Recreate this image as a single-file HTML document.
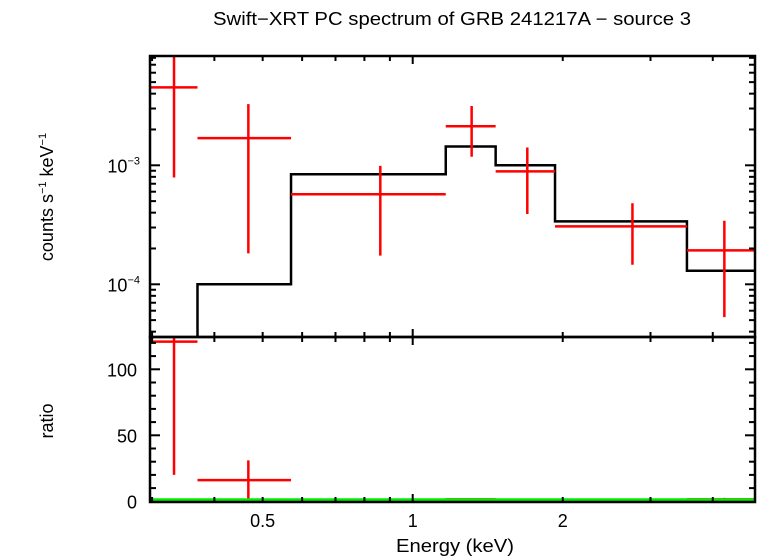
<!DOCTYPE html>
<html><head><meta charset="utf-8"><style>
html,body{margin:0;padding:0;background:#fff;}
svg{display:block;font-family:"Liberation Sans",sans-serif;}
</style></head><body>
<svg id="chart" width="758" height="556" viewBox="0 0 758 556">
<text x="452" y="25" font-size="18" text-anchor="middle" textLength="478" lengthAdjust="spacingAndGlyphs">Swift−XRT PC spectrum of GRB 241217A − source 3</text>
<text transform="translate(53,197) rotate(-90)" font-size="18" text-anchor="middle">counts s<tspan font-size="11" dy="-7">−1</tspan><tspan dy="7"> keV</tspan><tspan font-size="11" dy="-7">−1</tspan></text>
<text transform="translate(53,421) rotate(-90)" font-size="18" text-anchor="middle">ratio</text>
<text x="455" y="552" font-size="18" text-anchor="middle" textLength="118" lengthAdjust="spacingAndGlyphs">Energy (keV)</text>
<g id="g"></g>
</svg>
<script>
const binLo = [0.28, 0.37, 0.57, 1.165, 1.467, 1.93, 3.55];
const binHi = [0.37, 0.57, 1.165, 1.467, 1.93, 3.55, 5.0];
const binMid = [0.332, 0.468, 0.861, 1.313, 1.698, 2.76, 4.22];
const dataVal = [4.52e-3, 1.69e-3, 5.71e-4, 2.13e-3, 8.9e-4, 3.07e-4, 1.93e-4];
const dataErrHi = [1.2e-2, 3.27e-3, 0.99e-3, 3.15e-3, 1.41e-3, 4.8e-4, 3.42e-4];
const dataErrLo = [7.9e-4, 1.82e-4, 1.74e-4, 1.18e-3, 3.9e-4, 1.46e-4, 5.3e-5];
const modelVal = [1e-5, 1.0e-4, 8.4e-4, 1.44e-3, 1.0e-3, 3.38e-4, 1.30e-4];
const ratioVal = [121, 16, 0.7, 1.5, 0.9, 0.9, 1.5];
const ratioErrHi = [135, 31, 1.3, 2.2, 1.5, 1.5, 2.6];
const ratioErrLo = [20, 0.2, 0.2, 0.8, 0.4, 0.4, 0.4];
const xTickVals = [0.5, 1, 2];
const xTickLabels = ["0.5", "1", "2"];
const ratioTickVals = [0, 50, 100];

const L=150,R=755,T=56,M=337,B=502;
const sx=e=>412.7+498.4*Math.log10(e);
const sy=v=>165.3-119*(Math.log10(v)+3);
const sr=v=>501.3-1.32*v;
const g=document.getElementById('g');
const NS='http://www.w3.org/2000/svg';
function mk(t,a){const e=document.createElementNS(NS,t);for(const k in a)e.setAttribute(k,a[k]);g.appendChild(e);return e;}
const clamp=(v,a,b)=>Math.max(a,Math.min(b,v));

const defs=document.createElementNS(NS,'defs');
defs.innerHTML='<clipPath id="ct"><rect x="150" y="56" width="605" height="281"/></clipPath><clipPath id="cb"><rect x="150" y="337" width="605" height="165"/></clipPath>';
g.appendChild(defs);

let d='';
for(let i=0;i<modelVal.length;i++){const y=clamp(sy(modelVal[i]),T-5,M+5);d+=(i?'L':'M')+sx(binLo[i])+','+y+'L'+sx(binHi[i])+','+y;}
const mp=mk('path',{d:d,fill:'none',stroke:'#000','stroke-width':2.5,'clip-path':'url(#ct)'});



for(let i=0;i<dataVal.length;i++){
  const y=sy(dataVal[i]);
  const h=mk('line',{x1:sx(binLo[i]),x2:sx(binHi[i]),y1:y,y2:y,stroke:'#f00','stroke-width':2.5,'clip-path':'url(#ct)'});
  
  
  const v=mk('line',{x1:sx(binMid[i]),x2:sx(binMid[i]),y1:sy(dataErrHi[i]),y2:sy(dataErrLo[i]),stroke:'#f00','stroke-width':2.5,'clip-path':'url(#ct)'});
  
  
  const ry=sr(ratioVal[i]);
  const rh=mk('line',{x1:sx(binLo[i]),x2:sx(binHi[i]),y1:ry,y2:ry,stroke:'#f00','stroke-width':2.5,'clip-path':'url(#cb)'});
  
  
  const rv=mk('line',{x1:sx(binMid[i]),x2:sx(binMid[i]),y1:sr(ratioErrHi[i]),y2:sr(ratioErrLo[i]),stroke:'#f00','stroke-width':2.5,'clip-path':'url(#cb)'});
  
  
}

const gl=mk('line',{x1:L,x2:R,y1:sr(1),y2:sr(1),stroke:'#00ee00','stroke-width':3.5});



const f1=mk('rect',{x:L,y:T,width:R-L,height:M-T,fill:'none',stroke:'#000','stroke-width':2.5});


const f2=mk('rect',{x:L,y:M,width:R-L,height:B-M,fill:'none',stroke:'#000','stroke-width':2.5});



const xt=[0.3,0.4,0.5,0.6,0.7,0.8,0.9,1,2,3,4];
xt.forEach(e=>{const x=sx(e);if(x<=L+1||x>=R-1)return;const len=(e===1)?8:5;
 [[T,1],[M,-1],[M,1],[B,-1]].forEach(([y0,s])=>{const t=mk('line',{x1:x,x2:x,y1:y0,y2:y0+s*len,stroke:'#000','stroke-width':2});
 });});
xTickVals.forEach((e,i)=>{const t=mk('text',{x:sx(e),y:527,'font-size':18,'text-anchor':'middle'});t.textContent=xTickLabels[i];
 });

for(let dec=-5;dec<=-2;dec++)for(let m=1;m<=9;m++){const v=m*Math.pow(10,dec);const y=sy(v);if(y<=T+1||y>=M-1)continue;const len=m===1?10:6;
 [[L,1],[R,-1]].forEach(([x0,s])=>{const t=mk('line',{x1:x0,x2:x0+s*len,y1:y,y2:y,stroke:'#000','stroke-width':2});
 });}
[-3,-4].forEach(p=>{const t=mk('text',{x:140,y:sy(Math.pow(10,p))+7,'font-size':18,'text-anchor':'end'});
 t.innerHTML='10<tspan font-size="11" dy="-8">'+(p===-3?'−3':'−4')+'</tspan>';
 });

for(let v=0;v<=120;v+=10){const y=sr(v);if(y<=M+1||y>=B-1)continue;const len=v%50===0?10:6;
 [[L,1],[R,-1]].forEach(([x0,s])=>{const t=mk('line',{x1:x0,x2:x0+s*len,y1:y,y2:y,stroke:'#000','stroke-width':2});
 });}
ratioTickVals.forEach(v=>{const t=mk('text',{x:137,y:sr(v)+7,'font-size':18,'text-anchor':'end'});t.textContent=v;
 });
</script>
</body></html>
